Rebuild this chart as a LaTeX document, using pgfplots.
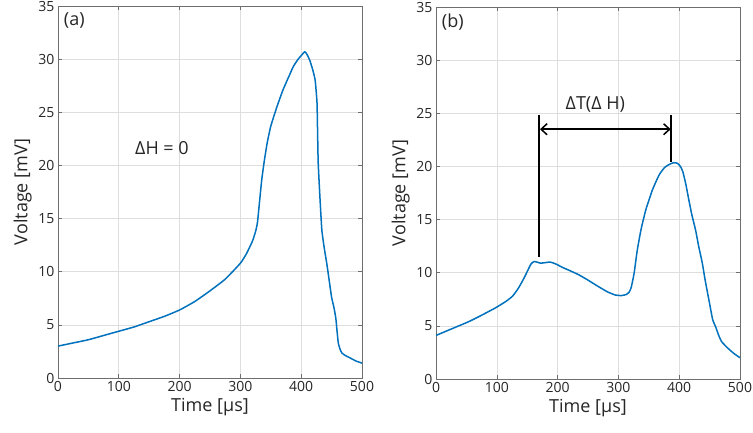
\documentclass[border=0pt]{standalone}
\usepackage{fontspec}
\setmainfont{Open Sans}
\usepackage{pgfplots}
\pgfplotsset{compat=1.18}
\usetikzlibrary{arrows.meta}
\definecolor{mblue}{RGB}{0,114,189}
\definecolor{tickc}{RGB}{38,38,38}
\definecolor{framec}{RGB}{110,110,110}

\pgfplotsset{panel/.style={
  scale only axis, width=304pt, height=372pt,
  xmin=0, xmax=500, ymin=0, ymax=35,
  xtick={0,100,...,500}, ytick={0,5,...,35},
  grid=major, major grid style={black!13, line width=0.6pt},
  axis line style={framec, line width=0.8pt},
  tick style={framec, line width=0.6pt},
  tick align=inside, major tick length=4pt,
  ticklabel style={font=\fontsize{14}{16}\selectfont, text=tickc},
  /pgf/number format/assume math mode=true,
  label style={font=\fontsize{18}{20}\selectfont, text=tickc},
  xlabel={Time [µs]}, ylabel={Voltage [mV]},
}}
\pgfplotsset{trace/.style={mblue, no marks, line width=1.5pt, line join=round, smooth, tension=0.3}}

\begin{document}
\begin{tikzpicture}
\begin{axis}[panel, at={(58pt,54pt)}, anchor=south west]
\addplot[trace] coordinates {
(0,3.0)(25,3.3)(50,3.6)(75,4.0)(100,4.4)(125,4.8)(150,5.3)(175,5.8)(200,6.4)
(225,7.2)(250,8.2)(275,9.3)(300,10.8)(310,11.7)(320,12.9)(325,13.8)(328,14.6)
(331,16.3)(335,18.6)(339,20.3)(344,22.1)(350,23.7)(360,25.5)(370,27.1)(380,28.4)
(387,29.3)(395,30.0)(401,30.4)(406,30.7)(410,30.4)(414,29.9)(419,29.0)(423,28.0)
(426,25.9)(427,23.0)(428,20.2)(431,16.8)(434,13.9)(438,12.2)(442,10.8)(446,9.2)
(450,7.6)(454,6.6)(457,5.6)(459,4.4)(461,3.3)(464,2.7)(467,2.35)(473,2.1)
(480,1.9)(490,1.6)(500,1.4)
};
\node[font=\fontsize{18}{20}\selectfont, text=tickc, anchor=west] at (axis cs:4,33.6) {(a)};
\node[font=\fontsize{18}{20}\selectfont, text=tickc] at (axis cs:171,21.6) {ΔH = 0};
\end{axis}

\begin{axis}[panel, at={(436pt,53pt)}, anchor=south west]
\addplot[trace] coordinates {
(0,4.1)(25,4.7)(54,5.4)(75,6.0)(98,6.7)(115,7.3)(126,7.8)(135,8.5)(143,9.3)
(150,10.1)(156,10.8)(161,11.05)(166,11.0)(172,10.9)(180,10.95)(188,11.0)(198,10.8)
(208,10.5)(220,10.2)(235,9.8)(250,9.3)(267,8.7)(282,8.2)(295,7.9)(305,7.85)
(313,7.95)(318,8.2)(321,8.6)(324,9.4)(326,10.0)(331,12.1)(337,14.0)(345,15.9)
(356,17.8)(367,19.2)(376,19.9)(384,20.2)(391,20.35)(397,20.3)(402,20.0)(406,19.5)
(411,18.3)(416,16.8)(421,15.4)(427,14.0)(432,12.5)(438,10.9)(443,9.2)(449,7.4)
(455,5.6)(460,4.9)(465,4.1)(470,3.5)(480,2.9)(490,2.4)(500,2.0)
};
\node[font=\fontsize{18}{20}\selectfont, text=tickc, anchor=west] at (axis cs:4,33.6) {(b)};
\draw[black, line width=1.8pt] (axis cs:170,11.5) -- (axis cs:170,24.8);
\draw[black, line width=1.8pt] (axis cs:387,20.4) -- (axis cs:387,24.8);
\draw[black, line width=1.5pt, {Straight Barb[length=6pt,width=11pt]}-{Straight Barb[length=6pt,width=11pt]}]
  (axis cs:171,23.5) -- (axis cs:386,23.5);
\node[font=\fontsize{18}{20}\selectfont, text=tickc] at (axis cs:262,25.8) {ΔT(Δ H)};
\end{axis}
\pgfresetboundingbox
\useasboundingbox (0,0) rectangle (753pt,432pt);
\end{tikzpicture}
\end{document}
